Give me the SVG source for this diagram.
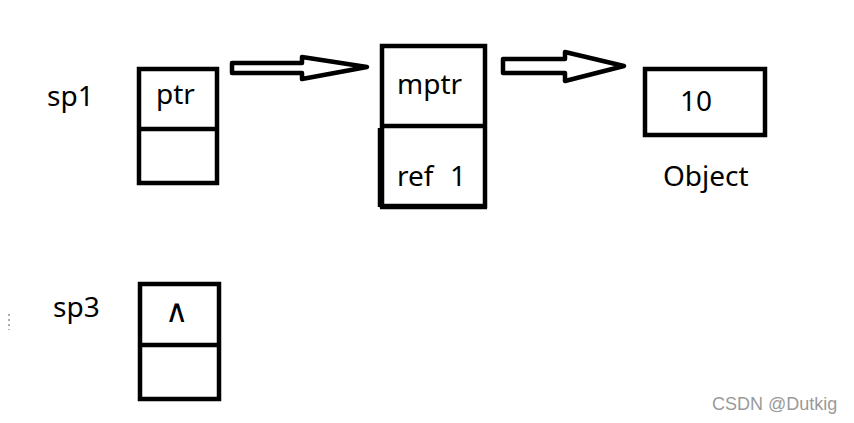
<svg xmlns="http://www.w3.org/2000/svg" width="854" height="423" viewBox="0 0 854 423">
<style>
.box{fill:#fff;stroke:#000;stroke-width:4.5}
.ln{stroke:#000;stroke-width:4.5;fill:none}
.arr{fill:#fff;stroke:#000;stroke-width:4.5;stroke-linejoin:round}
.t{font-family:"Noto Sans","Open Sans",sans-serif;font-size:28px;fill:#000}
.wm{font-family:"Liberation Sans",Arial,sans-serif;font-size:18px;fill:#9a9a9a}
</style>
<rect width="854" height="423" fill="#fff"/>
<g id="sp1">
<text class="t" x="47" y="106">sp1</text>
<rect class="box" x="139" y="69" width="78" height="114"/>
<line class="ln" x1="139" y1="129" x2="217" y2="129"/>
<text class="t" x="156" y="104">ptr</text>
</g>
<g id="refcount">
<rect class="box" x="382" y="46" width="103" height="160"/>
<line class="ln" x1="382" y1="126" x2="485" y2="126"/>
<line class="ln" x1="380" y1="128" x2="380" y2="207"/>
<line class="ln" x1="380" y1="207" x2="487" y2="207"/>
<text class="t" x="397" y="94">mptr</text>
<text class="t" x="397" y="186">ref<tspan x="450">1</tspan></text>
</g>
<g id="object">
<rect class="box" x="645" y="69" width="120" height="66"/>
<text class="t" x="680" y="111">10</text>
<text class="t" x="663" y="186">Object</text>
</g>
<g id="sp3">
<text class="t" x="53" y="317">sp3</text>
<rect class="box" x="140" y="284" width="79" height="115"/>
<line class="ln" x1="140" y1="345" x2="219" y2="345"/>
<text class="t" x="165" y="322" style="font-size:32px;font-weight:300">∧</text>
</g>
<g id="connectors">
<polygon class="arr" points="232,63 302,63 302,57 367,67 302,79 302,73 232,73"/>
<polygon class="arr" points="503,59 565,59 565,52 624,66 565,81 565,73 503,73"/>
</g>
<g id="marks">
<line x1="9" y1="314" x2="9" y2="330" stroke="#555" stroke-width="1" stroke-dasharray="2,3"/>
</g>
<text class="wm" x="712" y="410">CSDN @Dutkig</text>
</svg>
